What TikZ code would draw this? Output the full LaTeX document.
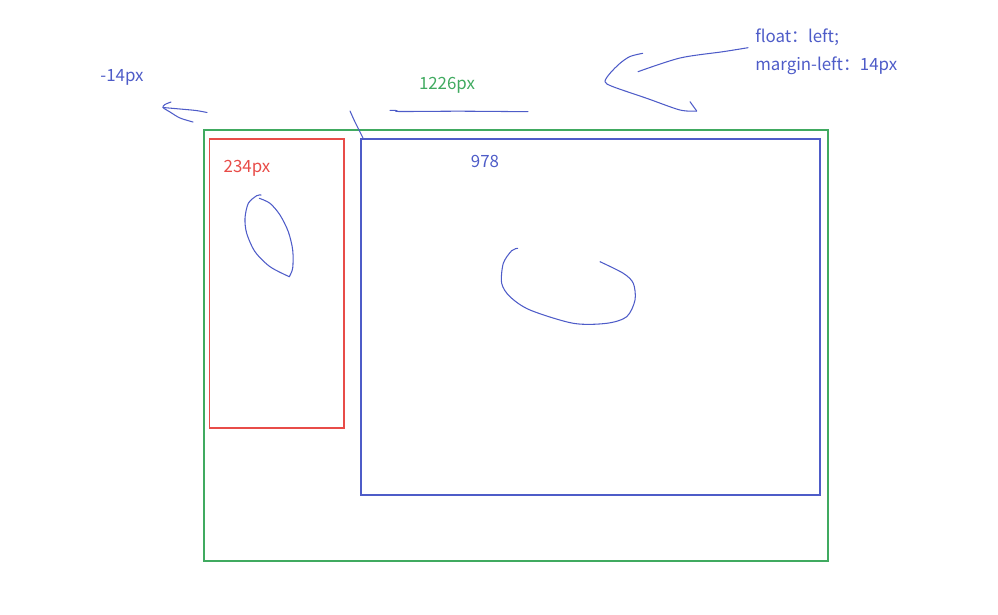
\documentclass[tikz,border=0pt]{standalone}
\usepackage{fontspec}
\newfontfamily\cjk{Noto Sans CJK SC}
\definecolor{penblue}{RGB}{78,92,200}
\definecolor{pengreen}{RGB}{64,170,96}
\definecolor{penred}{RGB}{232,76,72}
\tikzset{
  frame/.style={line width=0.8pt},
  stroke/.style={penblue,line width=0.75pt,line cap=round,line join=round},
  label/.style={font=\cjk\fontsize{12}{14}\selectfont,inner sep=0pt}
}
\begin{document}
\begin{tikzpicture}[x=0.025cm,y=-0.025cm]
  \useasboundingbox (0,0) rectangle (998,614);

  % Boxes: outer container, left column, right column.
  \draw[frame,pengreen] (204,130) rectangle (828,561);
  \draw[frame,penred] (209.5,139) rectangle (344,428);
  \draw[frame,penblue] (361,139) rectangle (820,495);

  % Labels.
  \node[label,penblue] (neg) at (122,77) {-14px};
  \node[label,pengreen] (total) at (447,85) {1226px};
  \node[label,penblue] (main) at (485,161) {978};
  \node[label,penred] (side) at (247,168) {234px};
  \node[label,penblue,anchor=west] (float) at (755,37) {float：left;};
  \node[label,penblue,anchor=west] (margin) at (755,66) {margin-left：14px};

  % Hand-drawn arrow towards -14px.
  \draw[stroke] plot[smooth] coordinates {(207,112.5) (196,110.5) (180,109) (163,107.5)};
  \draw[stroke] plot[smooth] coordinates {(171,102) (165,104.5) (163,107.5) (170,112) (180,118) (193,122)};

  % Tick at the top left corner of the right column.
  \draw[stroke] plot[smooth] coordinates {(350,111) (355,122) (360,132) (363,138)};

  % Stroke under 1226px.
  \draw[stroke] plot[smooth] coordinates {(390,110.3) (397,110.6) (400,111.5) (460,111.2) (528,111.7)};

  % Curved arrow from the float note.
  \draw[stroke] plot[smooth] coordinates {(748,47.7) (723,51.7) (680,58) (638,71.7)};
  \draw[stroke] plot[smooth] coordinates {(642.7,53.3) (630,56.5) (620,63.3) (610,73.3) (605,81.7)
    (613,86.7) (646.7,98.3) (680,110) (696.7,111)};
  \draw[stroke] (696.7,111) -- (690,101.7);

  % Scribble in the left column.
  \draw[stroke] plot[smooth] coordinates {(261,195) (256.7,195.7) (248.3,203.3) (245,218.3)
    (246.7,233.3) (255,251.7) (270,266.7) (289.3,276.7)};
  \draw[stroke] plot[smooth] coordinates {(289.3,276.7) (292.7,268) (292.7,250) (288.3,231.7)
    (280,215) (270,203.3) (259.3,198.3)};

  % Scribble in the right column.
  \draw[stroke] plot[smooth] coordinates {(517.7,248.3) (511.7,250.7) (503.3,263.3) (501.7,283.3)
    (510,296.7) (530,310) (573.3,323.3) (606.7,323.3) (626.7,316.7) (635,300) (633.3,283.3)
    (623.3,273.3) (600,261.7)};
\end{tikzpicture}
\end{document}
